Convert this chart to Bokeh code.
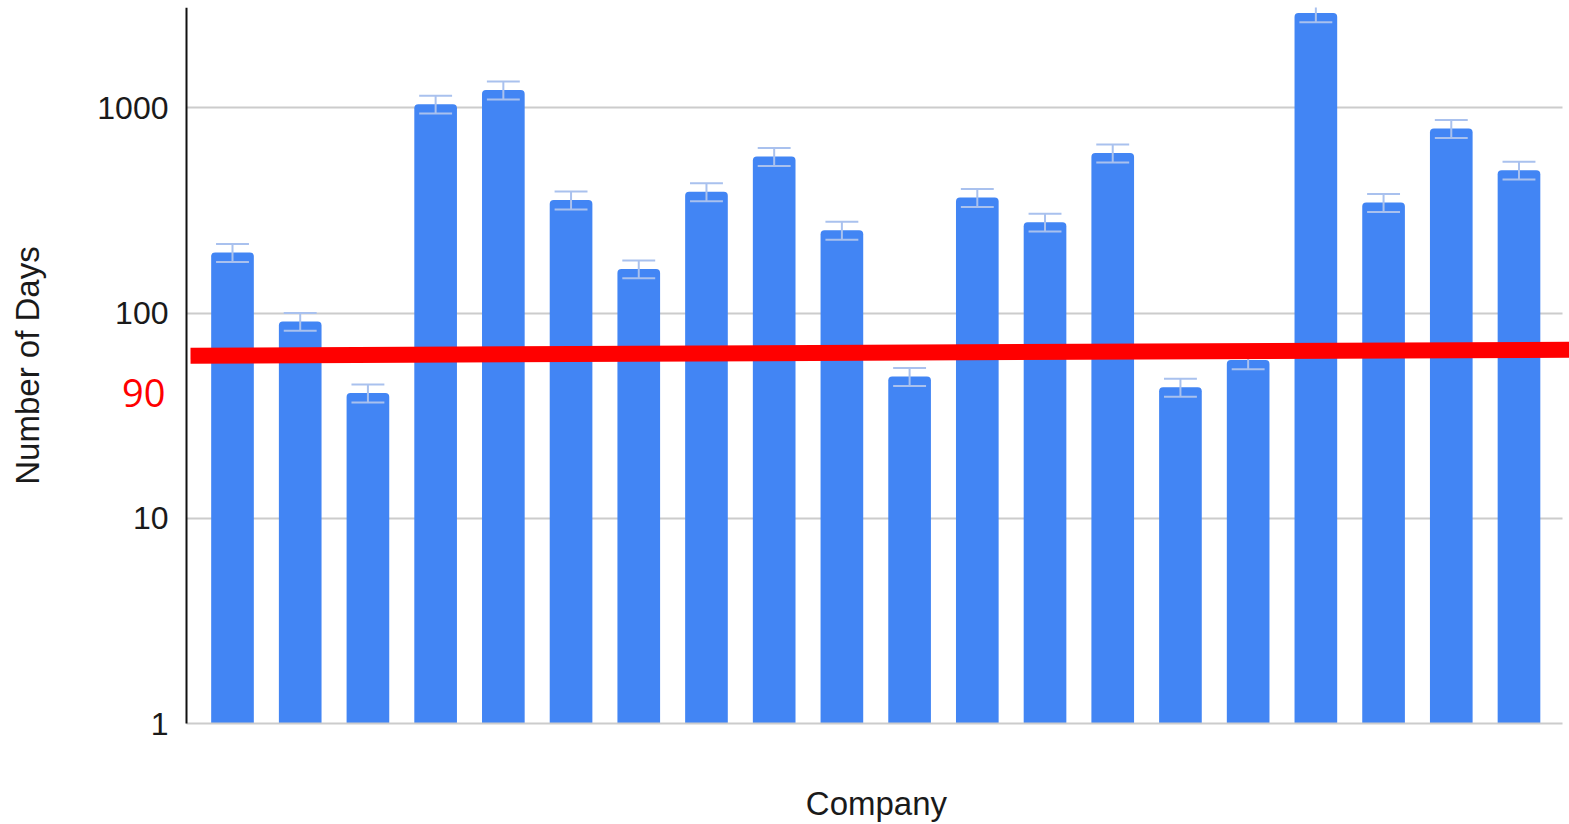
import math
from bokeh.plotting import figure
from bokeh.models import Range1d, FixedTicker, NumeralTickFormatter, Label, ColumnDataSource
from bokeh.embed import file_html
from bokeh.resources import INLINE

# ---- data ----
company_idx = list(range(1, 21))
days = [197, 91, 40.8, 1040, 1217, 355, 164, 389, 578, 253,
        49.1, 365, 277, 601, 43.5, 59.1, 2893, 345, 791, 496]
error_pct = 10
y_ticks = [1, 10, 100, 1000]
threshold_x = [0.38, 20.75]
threshold_y = [62, 66.3]
threshold_label = "90"
x_title = "Company"
y_title = "Number of Days"

upper = [v * (1 + error_pct / 100) for v in days]
lower = [v * (1 - error_pct / 100) for v in days]
cap_half = 0.243

# ---- layout (data-space extents of the drawing area and text anchors) ----
x_axis_start, x_axis_end = 0.3206, 20.642      # bar area: axis line .. right end of grid
y_axis_start, y_axis_end = 1, 3073
x_view = (-2.4264, 20.746)                     # whole canvas width
y_view = (0.3234, 3073)                        # canvas height below the top margin
threshold_label_pos = (0.0105, 40.7)
x_title_pos = (10.51, 0.4092)
y_title_pos = (-2.0203, 55.5)

src = ColumnDataSource(dict(
    x=company_idx, top=days, upper=upper, lower=lower,
    xl=[c - cap_half for c in company_idx], xr=[c + cap_half for c in company_idx],
))

FONT = "Liberation Sans"
BLUE = "#4285f4"
ERR = "#a9c1ee"
TXT = "#1a1a1a"

p = figure(width=1569, height=824, y_axis_type="log",
           x_range=Range1d(*x_view), y_range=Range1d(*y_view),
           output_backend="svg", toolbar_location=None,
           min_border_left=0, min_border_right=0,
           min_border_top=7, min_border_bottom=0)
p.outline_line_color = None
p.background_fill_color = "white"
p.border_fill_color = "white"

# bars
p.vbar(x="x", top="top", bottom=1, width=0.63, source=src,
       fill_color=BLUE, line_color=None, border_radius=(4, 4, 0, 0))

# error bars
p.segment(x0="x", y0="lower", x1="x", y1="upper", source=src, line_color=ERR, line_width=2)
p.segment(x0="xl", y0="upper", x1="xr", y1="upper", source=src, line_color=ERR, line_width=2)
p.segment(x0="xl", y0="lower", x1="xr", y1="lower", source=src, line_color=ERR, line_width=2)

# red threshold line
p.line(x=threshold_x, y=threshold_y, line_color="#ff0000", line_width=16, line_cap="butt")

p.add_layout(Label(x=threshold_label_pos[0], y=threshold_label_pos[1], text=threshold_label,
                   text_align="right", text_baseline="middle",
                   text_color="#ff0000", text_font="Open Sans", text_font_size="38px"))

# axis titles
p.add_layout(Label(x=x_title_pos[0], y=x_title_pos[1], text=x_title,
                   text_align="center", text_baseline="alphabetic",
                   text_color=TXT, text_font=FONT, text_font_size="33px"))
p.add_layout(Label(x=y_title_pos[0], y=y_title_pos[1], text=y_title, angle=math.pi / 2,
                   text_align="center", text_baseline="alphabetic",
                   text_color=TXT, text_font=FONT, text_font_size="33px"))

# y axis
ya = p.yaxis[0]
ya.fixed_location = x_axis_start
ya.bounds = (y_axis_start, y_axis_end)
ya.ticker = FixedTicker(ticks=y_ticks)
ya.formatter = NumeralTickFormatter(format="0")
ya.minor_tick_line_color = None
ya.major_tick_line_color = None
ya.major_tick_in = 0
ya.major_tick_out = 0
ya.axis_line_color = "#111111"
ya.axis_line_width = 2
ya.major_label_text_font = FONT
ya.major_label_text_font_size = "32px"
ya.major_label_text_color = TXT
ya.major_label_standoff = 18

# x axis (baseline at y = 1)
xa = p.xaxis[0]
xa.fixed_location = y_axis_start
xa.bounds = (x_axis_start, x_axis_end)
xa.ticker = FixedTicker(ticks=[])
xa.major_label_text_font_size = "0px"
xa.minor_tick_line_color = None
xa.major_tick_line_color = None
xa.major_tick_in = 0
xa.major_tick_out = 0
xa.axis_line_color = "#cccccc"
xa.axis_line_width = 2

# grids
p.xgrid.visible = False
p.ygrid.ticker = FixedTicker(ticks=y_ticks[1:])
p.ygrid.cross_bounds = (x_axis_start, x_axis_end)
p.ygrid.grid_line_color = "#cccccc"
p.ygrid.grid_line_width = 2

open("out.html", "w").write(file_html(p, INLINE))
